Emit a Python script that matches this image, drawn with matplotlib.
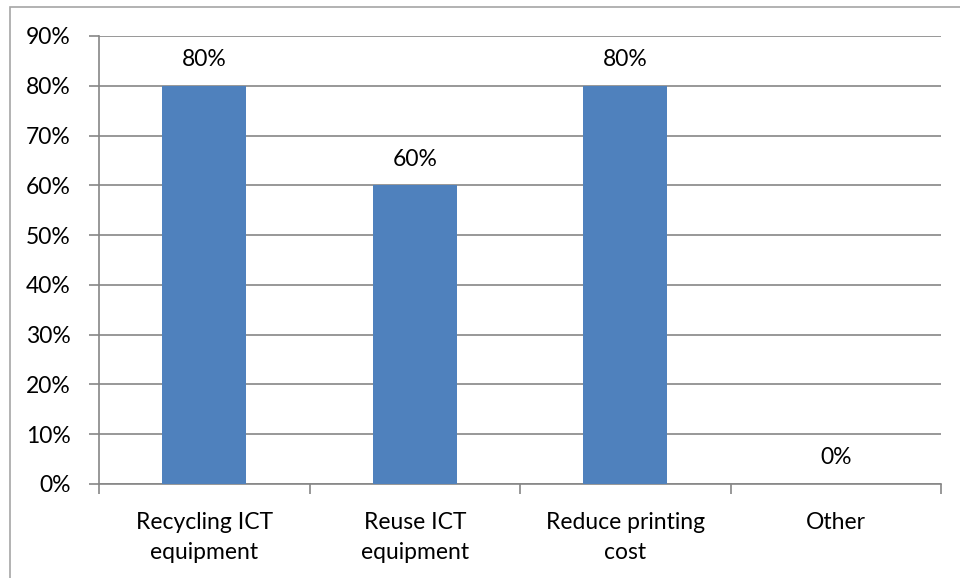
import matplotlib
matplotlib.use("Agg")
import matplotlib.pyplot as plt
from matplotlib.patches import Rectangle
from matplotlib.ticker import FixedLocator, NullFormatter, PercentFormatter

categories = ["Recycling ICT\nequipment", "Reuse ICT\nequipment", "Reduce printing\ncost", "Other"]
values = [80, 60, 80, 0]
y_ticks = [0, 10, 20, 30, 40, 50, 60, 70, 80, 90]

plt.rcParams["font.family"] = ["Lato", "DejaVu Sans"]

W, H = 960, 578
fig = plt.figure(figsize=(W / 100, H / 100), dpi=100)
fig.patch.set_facecolor("white")

# chart frame (open on the right and bottom edges)
fig.add_artist(Rectangle((10 / W, -0.1), 1.2, (H - 7) / H + 0.1,
                         transform=fig.transFigure, fill=False,
                         edgecolor="#a6a6a6", linewidth=1.2))

ax = fig.add_axes([99 / W, (H - 484) / H, 842 / W, 448 / H])
x = list(range(len(categories)))
bar_color = "#4f81bd"
ax.bar(x, values, width=0.4, color=bar_color, zorder=3)

ax.set_xlim(-0.5, len(categories) - 0.5)
ax.set_ylim(0, 90)
ax.set_yticks(y_ticks)
ax.yaxis.set_major_formatter(PercentFormatter(decimals=0))
ax.grid(axis="y", color="#868686", linewidth=1.2, zorder=0)

grey = "#868686"
for s in ["top", "right"]:
    ax.spines[s].set_visible(False)
for s in ["left", "bottom"]:
    ax.spines[s].set_color(grey)
    ax.spines[s].set_linewidth(1.2)

fs = 16.5
ax.tick_params(axis="y", length=7, width=1.2, color=grey, pad=13.5, labelsize=fs)
# category labels centred, ticks at category boundaries
ax.set_xticks(x)
ax.set_xticklabels(categories, fontsize=fs, linespacing=1.55)
ax.tick_params(axis="x", which="major", length=0, pad=20)
ax.xaxis.set_minor_locator(FixedLocator([i - 0.5 for i in range(len(categories) + 1)]))
ax.xaxis.set_minor_formatter(NullFormatter())
ax.tick_params(axis="x", which="minor", length=7, width=1.2, color=grey)

for xi, v in zip(x, values):
    ax.annotate(f"{v}%", (xi, v), xytext=(0, 26), textcoords="offset pixels",
                ha="center", va="center", fontsize=fs)

fig.savefig("out.png", dpi=100)
